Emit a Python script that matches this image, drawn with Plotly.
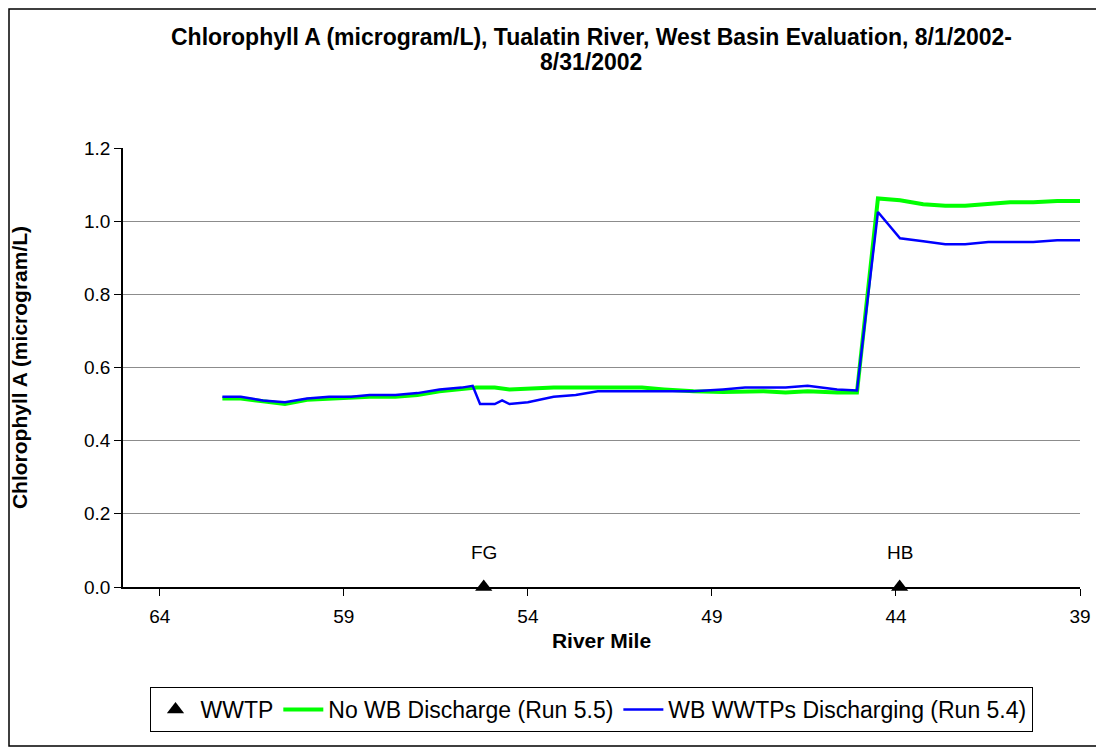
import plotly.graph_objects as go

# River mile positions and chlorophyll A values
miles_blue = [62.3, 61.8, 61.2, 60.6, 60.0, 59.4, 58.8, 58.3, 57.6, 57.0, 56.4, 55.8, 55.5,
              55.3, 54.9, 54.7, 54.5, 54.0, 53.3, 52.7, 52.1, 51.5, 50.3, 49.5, 48.7, 48.1,
              47.0, 46.4, 45.6, 45.06, 44.49, 43.89, 43.26, 42.66, 42.12, 41.49, 40.9,
              40.27, 39.62, 39.0]
wb_discharging = [0.52, 0.52, 0.51, 0.505, 0.515, 0.52, 0.52, 0.525, 0.525, 0.53, 0.54, 0.545, 0.55,
                  0.50, 0.50, 0.51, 0.50, 0.505, 0.52, 0.525, 0.535, 0.535, 0.535, 0.535, 0.54, 0.545,
                  0.545, 0.55, 0.54, 0.537, 1.025, 0.953, 0.945, 0.937, 0.937, 0.943, 0.943,
                  0.943, 0.948, 0.948]

miles_green = [62.3, 61.8, 61.2, 60.6, 60.0, 59.4, 58.8, 58.3, 57.6, 57.0, 56.4, 55.8, 55.4,
               54.9, 54.5, 53.3, 52.1, 50.9, 50.3, 49.5, 48.7, 47.6, 47.0, 46.4, 45.6, 45.06,
               44.49, 43.89, 43.26, 42.66, 42.12, 41.49, 40.9, 40.27, 39.62, 39.0]
no_wb_discharge = [0.515, 0.515, 0.508, 0.50, 0.512, 0.515, 0.516, 0.52, 0.52, 0.525, 0.535, 0.54, 0.545,
                   0.545, 0.54, 0.545, 0.545, 0.545, 0.54, 0.535, 0.533, 0.535, 0.532, 0.535, 0.532, 0.532,
                   1.062, 1.057, 1.046, 1.042, 1.042, 1.048, 1.052, 1.052, 1.055, 1.055]

wwtp_miles = [55.2, 43.9]
wwtp_values = [0.0, 0.0]
wwtp_labels = ["FG", "HB"]

x_ticks = [64, 59, 54, 49, 44, 39]
y_ticks = [0.0, 0.2, 0.4, 0.6, 0.8, 1.0, 1.2]

title_lines = ["Chlorophyll A (microgram/L), Tualatin River, West Basin Evaluation, 8/1/2002-",
               "8/31/2002"]

FONT = "Liberation Sans, Arial, sans-serif"

# page body has an 8px margin; figure is sized to fit the window
W, H = 1096, 743
L, R, T, B = 115, 24, 140, 164
PW, PH = W - L - R, H - T - B

fig = go.Figure()
fig.add_trace(go.Scatter(
    x=wwtp_miles, y=wwtp_values, mode="markers", name="WWTP",
    marker=dict(symbol="triangle-up", size=15, color="black"),
    cliponaxis=False,
))
fig.add_trace(go.Scatter(
    x=miles_green, y=no_wb_discharge, mode="lines", name="No WB Discharge (Run 5.5)",
    line=dict(color="#00FF00", width=4),
))
fig.add_trace(go.Scatter(
    x=miles_blue, y=wb_discharging, mode="lines", name="WB WWTPs Discharging (Run 5.4)",
    line=dict(color="#0000FF", width=2.5),
))

for m, lab in zip(wwtp_miles, wwtp_labels):
    fig.add_annotation(x=m, y=0, text=lab, showarrow=False, yshift=35,
                       font=dict(family=FONT, size=19, color="black"))

# two-line chart title (page y 37 and 62, centre x 591)
for txt, py in zip(title_lines, [37, 62]):
    fig.add_annotation(xref="paper", yref="paper",
                       x=(591 - 8 - L) / PW, y=(H - B - (py - 8)) / PH,
                       xanchor="center", yanchor="middle", showarrow=False,
                       text="<b>" + txt + "</b>",
                       font=dict(family=FONT, size=23, color="black"))

fig.update_layout(
    width=W, height=H,
    margin=dict(l=L, r=R, t=T, b=B),
    paper_bgcolor="white", plot_bgcolor="white",
    font=dict(family=FONT, size=19, color="black"),
    xaxis=dict(
        range=[65, 39], tickvals=x_ticks, ticktext=[str(v) for v in x_ticks],
        automargin=False,
        showgrid=False, zeroline=False, showline=True, linecolor="black", linewidth=1.5,
        ticks="outside", ticklen=7, tickcolor="black", ticklabelstandoff=4,
        title=dict(text="<b>River Mile</b>", font=dict(family=FONT, size=21), standoff=8),
        tickfont=dict(size=19),
    ),
    yaxis=dict(
        range=[0, 1.2], tickvals=y_ticks, tickformat=".1f",
        automargin=False,
        showgrid=True, gridcolor="#8c8c8c", gridwidth=1, zeroline=False,
        showline=True, linecolor="black", linewidth=1.5,
        ticks="outside", ticklen=7, tickcolor="black",
        title=dict(text="<b>Chlorophyll A (microgram/L)</b>", font=dict(family=FONT, size=21), standoff=53),
        tickfont=dict(size=19),
    ),
    legend=dict(
        orientation="h", x=(591 - 8 - L) / PW, xanchor="center",
        y=(579 - 679) / PH, yanchor="top",
        bordercolor="black", borderwidth=1, bgcolor="white",
        font=dict(family=FONT, size=23), itemwidth=40, tracegroupgap=0,
    ),
    showlegend=True,
)

# outer chart frame
fig.add_shape(type="rect", xref="paper", yref="paper",
              x0=(1 - L) / PW, x1=(1092 - L) / PW,
              y0=(579 - 738) / PH, y1=(579 - 1) / PH,
              line=dict(color="black", width=1.5), fillcolor="rgba(0,0,0,0)", layer="below")

fig.write_html("out.html")
